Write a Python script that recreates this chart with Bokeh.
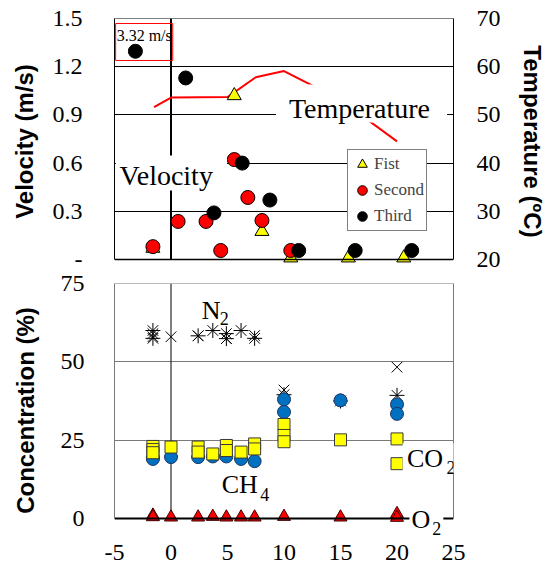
from bokeh.plotting import figure
from bokeh.models import (Range1d, LinearAxis, FixedTicker, Span, Label, Legend, LegendItem,
                          PrintfTickFormatter, BoxAnnotation)
from bokeh.layouts import column
from bokeh.embed import file_html
from bokeh.resources import INLINE

SERIF = "Liberation Serif"
SANS = "Liberation Sans"

# ---------------- data: top panel (velocity / temperature) ----------------
first_x = [-1.6, 5.6, 8.05, 10.6, 15.7, 20.6]
first_v = [0.07, 1.02, 0.175, 0.01, 0.01, 0.01]
second_x = [-1.6, 0.63, 3.1, 4.4, 5.6, 6.8, 8.05, 10.6]
second_v = [0.08, 0.237, 0.237, 0.056, 0.622, 0.386, 0.243, 0.056]
third_x = [-3.15, 1.3, 3.8, 6.3, 8.75, 11.3, 16.3, 21.3]
third_v = [1.296, 1.13, 0.29, 0.60, 0.37, 0.056, 0.056, 0.056]
temp_x = [-1.5, 0, 5, 7.5, 10, 15, 20]
temp_c = [51.6, 53.6, 53.7, 57.8, 59.1, 53.1, 44.5]

vel_ticks = [0, 0.3, 0.6, 0.9, 1.2, 1.5]
temp_ticks = [20, 30, 40, 50, 60, 70]
x_ticks = [-5, 0, 5, 10, 15, 20, 25]
conc_ticks = [0, 25, 50, 75]

# ---------------- data: bottom panel (gas concentration) ----------------
n2x_x = [-1.6, -1.6, 0, 2.4, 4.9, 7.4, 10, 20]
n2x_c = [59.0, 58.0, 58.0, 58.3, 57.4, 58.4, 41.0, 48.3]
n2a_x = [-1.6, -1.6, 2.4, 3.7, 4.9, 4.9, 6.2, 7.4, 10, 15, 20]
n2a_c = [60.0, 57.5, 58.3, 60.0, 57.4, 59.0, 60.0, 57.5, 39.5, 37.5, 39.3]
ch4_x = [-1.6, -1.6, 0, 2.4, 3.7, 4.9, 6.2, 7.4, 10, 10, 15, 20, 20]
ch4_c = [19.5, 19.0, 19.6, 19.6, 19.8, 19.8, 19.0, 18.3, 38.0, 34.0, 37.7, 36.4, 33.4]
co2_x = [-1.6, -1.6, -1.6, 0, 2.4, 2.4, 3.7, 4.9, 4.9, 6.2, 7.4, 7.4, 10, 10, 10, 15, 20, 20]
co2_c = [23.0, 22.0, 21.0, 22.8, 22.8, 21.2, 20.6, 23.3, 21.7, 21.2, 23.8, 22.2,
         30.0, 26.5, 24.5, 25.1, 25.4, 17.5]
o2_x = [-1.6, -1.6, 0, 2.4, 3.7, 4.9, 6.2, 7.4, 10, 15, 20, 20]
o2_c = [1.0, 0.5, 0.4, 0.4, 0.6, 0.4, 0.4, 0.4, 0.6, 0.4, 1.5, 0.3]

# ---------------- layout constants ----------------
TOP_FRAME_H = 246          # frame extends a little below 0 so bottom markers are not cut
TOP_NOMINAL_H = 241        # pixel height of the 0..1.5 span
V_LO = vel_ticks[-1] - TOP_FRAME_H * (vel_ticks[-1] - vel_ticks[0]) / TOP_NOMINAL_H
T_LO = temp_ticks[-1] - TOP_FRAME_H * (temp_ticks[-1] - temp_ticks[0]) / TOP_NOMINAL_H
BOT_FRAME_H = 254
BOT_NOMINAL_H = 235
C_LO = conc_ticks[-1] - BOT_FRAME_H * (conc_ticks[-1] - conc_ticks[0]) / BOT_NOMINAL_H


def style_axis(ax, standoff, lab_standoff, font_size="24px"):
    ax.major_label_text_font = SERIF
    ax.major_label_text_font_size = font_size
    ax.major_label_text_color = "black"
    ax.major_label_standoff = standoff
    ax.axis_label_standoff = lab_standoff
    ax.axis_label_text_font = SANS
    ax.axis_label_text_font_style = "bold"
    ax.axis_label_text_font_size = "24px"
    ax.axis_label_text_color = "black"
    ax.major_tick_out = 0
    ax.major_tick_in = 0
    ax.minor_tick_out = 0
    ax.minor_tick_in = 0
    ax.major_tick_line_color = None
    ax.minor_tick_line_color = None


def add_text(fig, x, y, text, size):
    lbl = Label(x=x, y=y, text=text, text_font=SERIF, text_font_size=size,
                text_color="black", text_baseline="alphabetic")
    fig.add_layout(lbl)
    return lbl


def white_box(fig, left, right, bottom, top):
    fig.add_layout(BoxAnnotation(left=left, right=right, bottom=bottom, top=top,
                                 fill_color="white", fill_alpha=1, line_color=None))


# ================= top figure =================
p1 = figure(width=548, height=271, x_range=Range1d(-5, 25), y_range=Range1d(V_LO, 1.5),
            output_backend="svg", toolbar_location=None,
            min_border_left=114, min_border_right=91, min_border_top=18, min_border_bottom=7)
p1.extra_y_ranges = {"temp": Range1d(T_LO, 70)}
p1.xaxis.visible = False
p1.xgrid.visible = False
p1.ygrid.ticker = FixedTicker(ticks=vel_ticks[1:-1])
p1.ygrid.grid_line_color = "black"
p1.ygrid.grid_line_width = 1
p1.outline_line_color = None
p1.background_fill_color = "white"
p1.border_fill_color = "white"

ya = p1.yaxis[0]
ya.ticker = FixedTicker(ticks=vel_ticks)
ya.formatter = PrintfTickFormatter(format="%.1f")
ya.major_label_overrides = {0: "-"}
ya.axis_label = "Velocity (m/s)"
ya.bounds = (vel_ticks[0], vel_ticks[-1])
ya.axis_line_color = "black"
ya.axis_line_width = 1
style_axis(ya, 32, 12)

ra = LinearAxis(y_range_name="temp", ticker=FixedTicker(ticks=temp_ticks),
                formatter=PrintfTickFormatter(format="%d"), bounds=(temp_ticks[0], temp_ticks[-1]),
                axis_label="Temperature (ºC)", axis_line_color="black", axis_line_width=1)
style_axis(ra, 23, 15)
p1.add_layout(ra, "right")

# frame top / bottom edges
p1.add_layout(Span(location=vel_ticks[-1], dimension="width", line_color="black", line_width=1))
p1.add_layout(Span(location=vel_ticks[0], dimension="width", line_color="black", line_width=1.5))

# vertical line at x = 0
p1.segment(x0=[0], y0=[vel_ticks[0]], x1=[0], y1=[vel_ticks[-1]], line_color="black", line_width=2)

p1.line(temp_x, temp_c, y_range_name="temp", line_color="red", line_width=2)
r1 = p1.scatter(first_x, first_v, marker="triangle", size=14, fill_color="#FFFF00",
                line_color="black", line_width=1)
r2 = p1.scatter(second_x, second_v, marker="circle", size=14, fill_color="#FF0000",
                line_color="black", line_width=1)
r3 = p1.scatter(third_x, third_v, marker="circle", size=14, fill_color="black",
                line_color="black", line_width=1)

# text boxes with white fill (hide lines behind them)
white_box(p1, -4.88, 4.96, 0.429, 0.647)
white_box(p1, 9.30, 24.43, 0.853, 1.089)
add_text(p1, -4.55, 0.520, "Velocity", "28px")
add_text(p1, 10.44, 0.938, "Temperature", "28px")

note = Label(x=-4.9, y=1.469, text="3.32 m/s", text_font=SERIF, text_font_size="16px",
             text_baseline="top", text_color="black",
             border_line_color="red", border_line_width=1,
             padding=dict(left=1, right=1, top=4, bottom=16))
p1.add_layout(note)

legend = Legend(items=[LegendItem(label="Fist", renderers=[r1]),
                       LegendItem(label="Second", renderers=[r2]),
                       LegendItem(label="Third", renderers=[r3])],
                location=(233, 33), orientation="vertical",
                label_text_font=SERIF, label_text_font_size="17px",
                glyph_width=24, glyph_height=24, label_height=24, label_standoff=0,
                spacing=2, padding=2, margin=0,
                border_line_color="black", border_line_width=1,
                background_fill_color="white", background_fill_alpha=1)
p1.add_layout(legend)

# ================= bottom figure =================
p2 = figure(width=548, height=301, x_range=Range1d(-5, 25), y_range=Range1d(C_LO, 75),
            output_backend="svg", toolbar_location=None,
            min_border_left=113, min_border_right=93, min_border_top=12, min_border_bottom=35)
p2.xgrid.visible = False
p2.ygrid.ticker = FixedTicker(ticks=[25, 50])
p2.ygrid.grid_line_color = "#7a7a7a"
p2.ygrid.grid_line_width = 1
p2.outline_line_color = None
p2.background_fill_color = "white"
p2.border_fill_color = "white"

xa = p2.xaxis[0]
xa.ticker = FixedTicker(ticks=x_ticks)
xa.formatter = PrintfTickFormatter(format="%d")
xa.axis_line_color = None
style_axis(xa, 7, 5)

ya2 = p2.yaxis[0]
ya2.ticker = FixedTicker(ticks=conc_ticks)
ya2.formatter = PrintfTickFormatter(format="%d")
ya2.axis_label = "Concentration (%)"
ya2.bounds = (conc_ticks[0], conc_ticks[-1])
ya2.axis_line_color = "#7a7a7a"
style_axis(ya2, 30, 19)

rb = LinearAxis(ticker=FixedTicker(ticks=[]), bounds=(conc_ticks[0], conc_ticks[-1]),
                axis_line_color="#7a7a7a")
style_axis(rb, 0, 0)
p2.add_layout(rb, "right")

p2.add_layout(Span(location=conc_ticks[-1], dimension="width", line_color="#7a7a7a", line_width=1))
p2.add_layout(Span(location=conc_ticks[0], dimension="width", line_color="black", line_width=2))

p2.segment(x0=[0], y0=[conc_ticks[0]], x1=[0], y1=[conc_ticks[-1]], line_color="black", line_width=1)

p2.scatter(n2x_x, n2x_c, marker="x", size=15, line_color="black", line_width=1)
p2.scatter(n2a_x, n2a_c, marker="asterisk", size=15, line_color="black", line_width=1)
p2.scatter(ch4_x, ch4_c, marker="circle", size=13, fill_color="#0070C0",
           line_color="#1F3864", line_width=1)
p2.scatter(co2_x, co2_c, marker="square", size=12, fill_color="#FFFF00",
           line_color="#3a3a3a", line_width=1)
p2.scatter(o2_x, o2_c, marker="triangle", size=13, fill_color="#FF0000",
           line_color="#3a0000", line_width=1)

white_box(p2, 20.5, 25.5, 14.4, 24.0)
white_box(p2, 21.1, 24.1, -4.5, 3.8)
add_text(p2, 2.72, 66.3, "N", "26px")
add_text(p2, 4.31, 63.8, "2", "18px")
add_text(p2, 4.49, 10.95, "CH", "26px")
add_text(p2, 7.9, 7.66, "4", "18px")
add_text(p2, 20.88, 19.15, "CO", "26px")
add_text(p2, 24.37, 16.4, "2", "18px")
add_text(p2, 21.29, -0.4, "O", "26px")
add_text(p2, 23.12, -3.2, "2", "18px")

layout = column(p1, p2)
open("out.html", "w").write(file_html(layout, INLINE))
